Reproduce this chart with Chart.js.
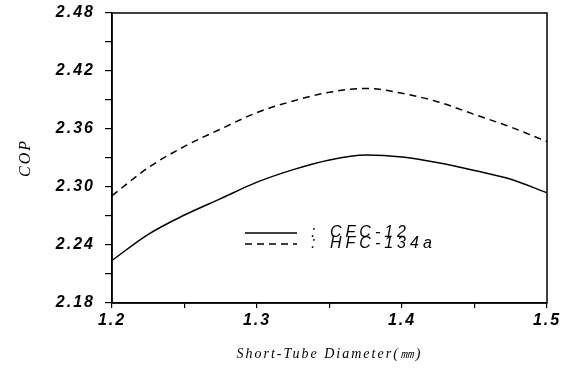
<!DOCTYPE html>
<html>
<head>
<meta charset="utf-8">
<script src="https://cdn.jsdelivr.net/npm/chart.js@4/dist/chart.umd.min.js"></script>
<style>
  html, body { margin: 0; padding: 0; background: #fff; }
  #wrap { width: 565px; height: 370px; }
</style>
</head>
<body>
<div id="wrap"><canvas id="chartCop"></canvas></div>
<script>
// ================================
//   DATI
// ================================
const diametri = [1.2, 1.225, 1.25, 1.275, 1.3, 1.325, 1.35, 1.375, 1.4, 1.425, 1.45, 1.475, 1.5];
const copCFC12 = [2.224, 2.251, 2.271, 2.288, 2.305, 2.318, 2.328, 2.333, 2.331, 2.325, 2.317, 2.308, 2.294];
const copHFC134a = [2.291, 2.320, 2.342, 2.360, 2.377, 2.389, 2.398, 2.402, 2.397, 2.388, 2.375, 2.362, 2.347];

const seriesNames = ["CFC-12", "HFC-134a"];

const xTickLabels = ["1.2", "1.3", "1.4", "1.5"];
const xMinorTicks = [1.25, 1.35, 1.45];
const yTickLabels = ["2.18", "2.24", "2.30", "2.36", "2.42", "2.48"];
const yMinorTicks = [2.21, 2.27, 2.33, 2.39, 2.45];

const xTitle = "Short-Tube Diameter(\u339C)";
const yTitle = "COP";

// ================================
//   HELPERS TICKS
// ================================
function buildTicks(labels, minors) {
  return function (axis) {
    const vals = labels.map(Number).concat(minors);
    vals.sort((a, b) => a - b);
    axis.ticks = vals.map(v => ({ value: v }));
  };
}

function labelFor(labels) {
  return function (value) {
    const i = labels.findIndex(l => Math.abs(Number(l) - value) < 1e-9);
    return i >= 0 ? labels[i] : "";
  };
}

// spaziatura lettere come nell'originale
const spacingPlugin = {
  id: "spacing",
  beforeDraw(chart) {
    chart.ctx.letterSpacing = "2px";
  }
};

// cornice completa
const framePlugin = {
  id: "frame",
  afterDraw(chart) {
    const { ctx, chartArea: a } = chart;
    ctx.save();
    ctx.strokeStyle = "#000";
    ctx.lineWidth = 1.5;
    ctx.strokeRect(a.left, a.top, a.right - a.left, a.bottom - a.top);
    ctx.restore();
  }
};

// legenda dentro il grafico
const legendPlugin = {
  id: "legendInside",
  afterDraw(chart) {
    const { ctx, chartArea: a } = chart;
    ctx.save();
    ctx.letterSpacing = "4px";
    ctx.font = "italic 16px 'Liberation Sans'";
    ctx.fillStyle = "#000";
    ctx.textBaseline = "middle";
    chart.data.datasets.forEach((ds, i) => {
      const y = a.top + 220 + i * 11;
      ctx.beginPath();
      ctx.strokeStyle = "#000";
      ctx.lineWidth = 1.3;
      ctx.setLineDash(ds.borderDash || []);
      ctx.moveTo(a.left + 133, y);
      ctx.lineTo(a.left + 185, y);
      ctx.stroke();
      ctx.setLineDash([]);
      ctx.fillText(":", a.left + 199, y);
      ctx.fillText(ds.label, a.left + 218, y);
    });
    ctx.restore();
  }
};

// ================================
//   GRAFICO
// ================================
function createChart() {
  const ctx = document.getElementById("chartCop");

  new Chart(ctx, {
    type: "line",
    data: {
      datasets: [
        {
          label: seriesNames[0],
          data: diametri.map((x, i) => ({ x, y: copCFC12[i] })),
          borderColor: "#000",
          borderWidth: 1.5,
          pointRadius: 0,
          cubicInterpolationMode: "monotone",
          fill: false
        },
        {
          label: seriesNames[1],
          data: diametri.map((x, i) => ({ x, y: copHFC134a[i] })),
          borderColor: "#000",
          borderWidth: 1.5,
          borderDash: [7, 5],
          pointRadius: 0,
          cubicInterpolationMode: "monotone",
          fill: false
        }
      ]
    },
    options: {
      responsive: true,
      maintainAspectRatio: false,
      animation: false,
      layout: { padding: { top: 13, right: 18, left: 0, bottom: 0 } },
      plugins: { legend: { display: false }, tooltip: { enabled: false } },
      scales: {
        x: {
          type: "linear",
          min: 1.2,
          max: 1.5,
          afterBuildTicks: buildTicks(xTickLabels, xMinorTicks),
          afterFit(scale) {
            scale.height = 67;
            scale.paddingLeft = 0;
            scale.paddingRight = 0;
          },
          grid: { drawOnChartArea: false, drawTicks: true, tickLength: 5, color: "#000", lineWidth: 1.2 },
          border: { display: true, color: "#000", width: 1.5 },
          ticks: {
            autoSkip: false,
            maxRotation: 0,
            padding: 3,
            color: "#000",
            font: { family: "'Liberation Sans'", size: 16, style: "italic", weight: "bold" },
            callback: labelFor(xTickLabels)
          },
          title: {
            display: true,
            text: xTitle,
            color: "#000",
            font: { family: "'Liberation Serif'", size: 14, style: "italic" },
            padding: { top: 0, bottom: 7 }
          }
        },
        y: {
          type: "linear",
          min: 2.18,
          max: 2.48,
          afterBuildTicks: buildTicks(yTickLabels, yMinorTicks),
          afterFit(scale) {
            scale.width = 112;
            scale.paddingTop = 0;
            scale.paddingBottom = 0;
          },
          grid: { drawOnChartArea: false, drawTicks: true, tickLength: 7, color: "#000", lineWidth: 1.2 },
          border: { display: true, color: "#000", width: 1.5 },
          ticks: {
            autoSkip: false,
            padding: 10,
            color: "#000",
            font: { family: "'Liberation Sans'", size: 16, style: "italic", weight: "bold" },
            callback: labelFor(yTickLabels)
          },
          title: {
            display: true,
            text: yTitle,
            color: "#000",
            font: { family: "'Liberation Serif'", size: 16, style: "italic" },
            padding: { top: 16, bottom: 0 }
          }
        }
      }
    },
    plugins: [spacingPlugin, framePlugin, legendPlugin]
  });
}

createChart();
</script>
</body>
</html>
